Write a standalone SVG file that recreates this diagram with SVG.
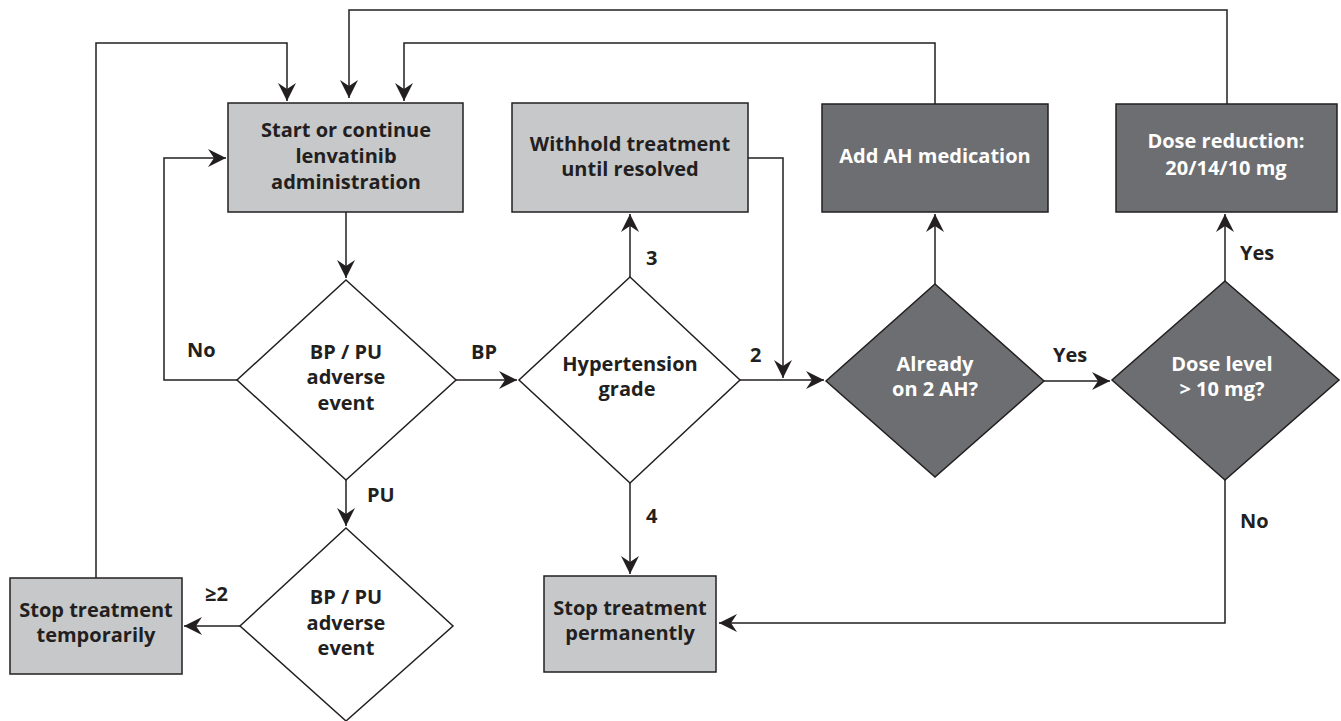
<svg xmlns="http://www.w3.org/2000/svg" width="1341" height="721" viewBox="0 0 1341 721">
<defs>
<marker id="ah" markerUnits="userSpaceOnUse" viewBox="-20 -11 22 22" refX="0" refY="0" markerWidth="22" markerHeight="22" orient="auto">
<path d="M0,0 L-18,-9 L-12,0 L-18,9 Z" fill="#231f20"/>
</marker>
</defs>
<style>
.lt{fill:#c7c8ca;stroke:#231f20;stroke-width:1.5}
.dk{fill:#6d6e71;stroke:#231f20;stroke-width:1.5}
.wd{fill:#ffffff;stroke:#231f20;stroke-width:1.5}
text{font-family:"Open Sans","Liberation Sans",sans-serif;font-weight:700;font-size:20px;fill:#231f20}
.c{text-anchor:middle}
.w{fill:#ffffff}
.cn path{fill:none;stroke:#231f20;stroke-width:1.5}
</style>
<rect width="1341" height="721" fill="#ffffff"/>
<g class="cn" id="connectors">
<path d="M346,212 V278" marker-end="url(#ah)"/>
<path d="M456,380 H517" marker-end="url(#ah)"/>
<path d="M237,380 H164 V158 H226" marker-end="url(#ah)"/>
<path d="M346,480 V526" marker-end="url(#ah)"/>
<path d="M240,626 H184" marker-end="url(#ah)"/>
<path d="M96,578 V43 H287 V101" marker-end="url(#ah)"/>
<path d="M630,277 V214" marker-end="url(#ah)"/>
<path d="M630,483 V574" marker-end="url(#ah)"/>
<path d="M740,380 H824" marker-end="url(#ah)"/>
<path d="M748,158 H783 V378" marker-end="url(#ah)"/>
<path d="M935,284 V214" marker-end="url(#ah)"/>
<path d="M935,104 V43 H404 V101" marker-end="url(#ah)"/>
<path d="M1044,381 H1110" marker-end="url(#ah)"/>
<path d="M1225,281 V214" marker-end="url(#ah)"/>
<path d="M1227,104 V10 H349 V98" marker-end="url(#ah)"/>
<path d="M1225,480 V623 H719" marker-end="url(#ah)"/>
</g>
<g id="start">
<rect class="lt" x="228" y="103" width="235" height="109"/>
<text class="c" x="346" y="137">Start or continue</text>
<text class="c" x="346" y="163">lenvatinib</text>
<text class="c" x="346" y="189">administration</text>
</g>
<g id="withhold">
<rect class="lt" x="512" y="103" width="236" height="109"/>
<text class="c" x="630" y="151">Withhold treatment</text>
<text class="c" x="630" y="176">until resolved</text>
</g>
<g id="addah">
<rect class="dk" x="822" y="104" width="226" height="108"/>
<text class="c w" x="935" y="163">Add AH medication</text>
</g>
<g id="dosered">
<rect class="dk" x="1116" y="104" width="221" height="108"/>
<text class="c w" x="1226" y="148">Dose reduction:</text>
<text class="c w" x="1226" y="175">20/14/10 mg</text>
</g>
<g id="bppu1">
<polygon class="wd" points="346,280 456,380 346,480 237,380"/>
<text class="c" x="346" y="359">BP / PU</text>
<text class="c" x="346" y="384">adverse</text>
<text class="c" x="346" y="410">event</text>
</g>
<g id="bppu2">
<polygon class="wd" points="346,528 453,626 346,721 240,626"/>
<text class="c" x="346" y="604">BP / PU</text>
<text class="c" x="346" y="630">adverse</text>
<text class="c" x="346" y="655">event</text>
</g>
<g id="hypgrade">
<polygon class="wd" points="630,277 740,380 630,483 519,380"/>
<text class="c" x="630" y="371">Hypertension</text>
<text class="c" x="627" y="396">grade</text>
</g>
<g id="already">
<polygon class="dk" points="935,284 1044,381 935,477 826,381"/>
<text class="c w" x="935" y="371">Already</text>
<text class="c w" x="935" y="396">on 2 AH?</text>
</g>
<g id="doselevel">
<polygon class="dk" points="1225,281 1339,380 1225,480 1112,380"/>
<text class="c w" x="1222" y="371">Dose level</text>
<text class="c w" x="1222" y="396">&gt; 10 mg?</text>
</g>
<g id="stoptemp">
<rect class="lt" x="10" y="578" width="172" height="96"/>
<text class="c" x="96" y="617">Stop treatment</text>
<text class="c" x="96" y="642">temporarily</text>
</g>
<g id="stopperm">
<rect class="lt" x="544" y="576" width="172" height="96"/>
<text class="c" x="630" y="615">Stop treatment</text>
<text class="c" x="630" y="640">permanently</text>
</g>
<g id="labels">
<text x="187" y="357">No</text>
<text x="471" y="359">BP</text>
<text x="367" y="502">PU</text>
<text x="205" y="601">≥2</text>
<text x="646" y="265">3</text>
<text x="750" y="362">2</text>
<text x="646" y="523">4</text>
<text x="1053" y="362">Yes</text>
<text x="1240" y="260">Yes</text>
<text x="1240" y="528">No</text>
</g>
</svg>
